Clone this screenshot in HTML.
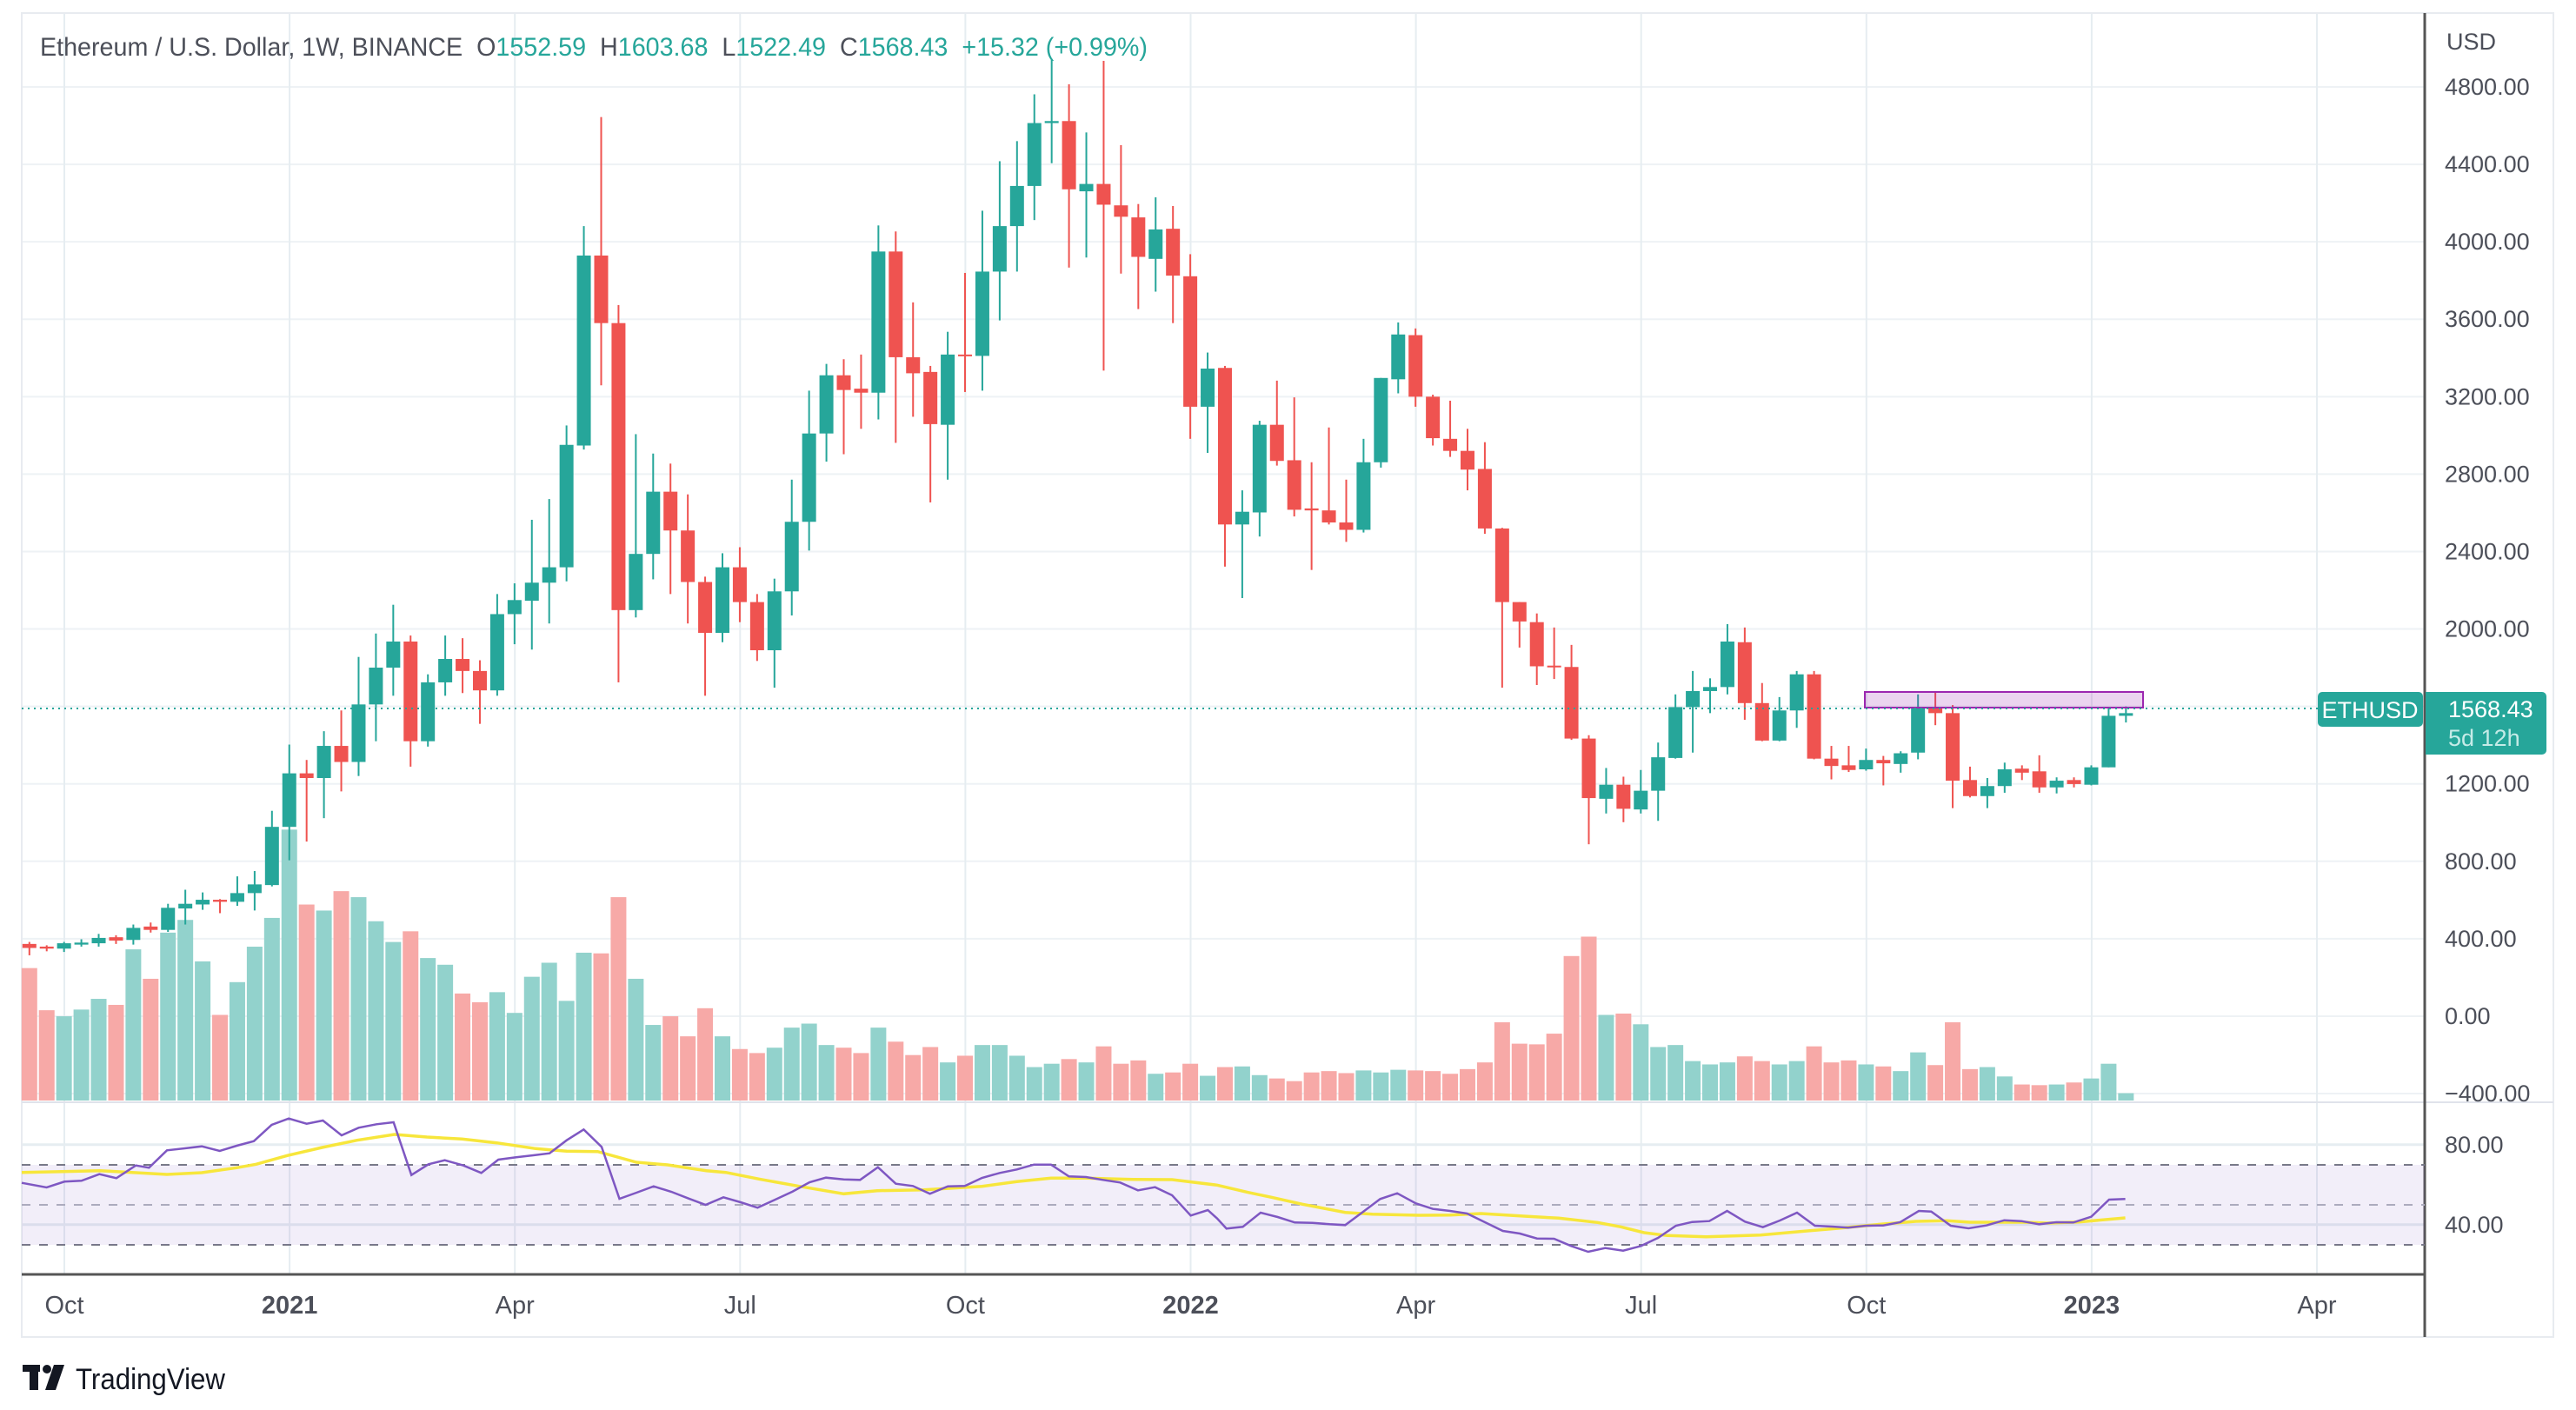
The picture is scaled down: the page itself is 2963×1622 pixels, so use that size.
<!DOCTYPE html>
<html><head><meta charset="utf-8"><style>
html,body{margin:0;padding:0;background:#fff;}
svg{display:block;font-family:"Liberation Sans",sans-serif;}
</style></head><body>
<svg id="s" width="2963" height="1622" viewBox="0 0 2963 1622" xmlns="http://www.w3.org/2000/svg">
<rect x="0" y="0" width="2963" height="1622" fill="#fff"/>
<g id="grid"></g>
<rect x="25" y="1340" width="2764" height="92" fill="rgba(126,87,194,0.1)"/>
<g id="vol"></g>
<g id="cdl"></g>
<rect x="2145" y="796" width="320" height="18" fill="rgba(156,39,176,0.2)" stroke="#9c27b0" stroke-width="2"/>
<line x1="25" y1="815" x2="2666" y2="815" stroke="#26a69a" stroke-width="2" stroke-dasharray="2,5"/>
<g id="rsi"></g>
<g id="lbl" font-size="27" fill="#4c4f59"></g>
<text x="46" y="64" font-size="30" fill="#4c4f59" style="white-space:pre" xml:space="preserve" textLength="1274" lengthAdjust="spacingAndGlyphs">Ethereum / U.S. Dollar, 1W, BINANCE  O<tspan fill="#26a69a">1552.59</tspan>  H<tspan fill="#26a69a">1603.68</tspan>  L<tspan fill="#26a69a">1522.49</tspan>  C<tspan fill="#26a69a">1568.43</tspan>  <tspan fill="#26a69a">+15.32 (+0.99%)</tspan></text>
<rect x="2666" y="796" width="121" height="40" rx="5" fill="#26a69a"/>
<text x="2726" y="826" font-size="27" fill="#fff" text-anchor="middle">ETHUSD</text>
<path d="M2790 796 H2924 a5 5 0 0 1 5 5 V863 a5 5 0 0 1 -5 5 H2790 Z" fill="#26a69a"/>
<text x="2816" y="825" font-size="27" fill="#fff">1568.43</text>
<text x="2816" y="858" font-size="27" fill="#c5ebe7">5d 12h</text>
<g transform="translate(0,-9)">
<g fill="#131722"><rect x="26" y="1579" width="20" height="8"/><rect x="34" y="1579" width="10" height="29"/><circle cx="54" cy="1584" r="5"/><path d="M62 1579 H74 L64 1608 H52 Z"/></g>
<text x="87" y="1607" font-size="34" fill="#131722" textLength="172" lengthAdjust="spacingAndGlyphs">TradingView</text>
</g>
</svg>
<script>
var NS="http://www.w3.org/2000/svg";
function el(p,t,a,txt){var e=document.createElementNS(NS,t);for(var k in a)e.setAttribute(k,a[k]);if(txt!=null)e.textContent=txt;document.getElementById(p).appendChild(e);return e;}
var G="#26a69a",R="#ef5350";
for(var k=0;k<14;k++){var y=100+k*89.08;el("grid","line",{x1:25,x2:2789,y1:y,y2:y,stroke:"#eef2f5","stroke-width":2});}
[1316.7,1408.7].forEach(function(y){el("grid","line",{x1:25,x2:2789,y1:y,y2:y,stroke:"#e6edf1","stroke-width":3});});
for(var k=0;k<11;k++){var x=74+259.1*k;el("grid","line",{x1:x,x2:x,y1:15,y2:1466,stroke:"#e6edf1","stroke-width":2});}
el("grid","rect",{x:25,y:15,width:2912,height:1523,fill:"none",stroke:"#e8ebf0","stroke-width":2});
el("grid","line",{x1:25,x2:2937,y1:1268,y2:1268,stroke:"#e0e3eb","stroke-width":2});
el("grid","line",{x1:2789,x2:2789,y1:15,y2:1538,stroke:"#555","stroke-width":3});
el("grid","line",{x1:25,x2:2789,y1:1466,y2:1466,stroke:"#555","stroke-width":3});
el("grid","line",{x1:25,x2:2789,y1:1340,y2:1340,stroke:"#787b86","stroke-width":2,"stroke-dasharray":"10,10"});
el("grid","line",{x1:25,x2:2789,y1:1386,y2:1386,stroke:"#b2b5be","stroke-width":2,"stroke-dasharray":"10,10"});
el("grid","line",{x1:25,x2:2789,y1:1432,y2:1432,stroke:"#787b86","stroke-width":2,"stroke-dasharray":"10,10"});
var C=[["r",1330,1333,1339,1350],["r",1335,1337,1340,1344],["g",1330,1332,1340,1345],["g",1326,1331,1334,1337],["g",1318,1324,1332,1337],["r",1320,1323,1328,1333],["g",1304,1309,1327,1334],["r",1301,1307,1312,1316],["g",1273,1279,1312,1315],["g",1252,1273,1280,1304],
["g",1256,1267,1274,1282],["r",1266,1267,1270,1287],["g",1232,1257,1270,1276],["g",1224,1244,1257,1283],["g",1134,1158,1245,1247],["g",1035,1078,1158,1208],["r",1058,1078,1085,1180],["g",1015,1037,1085,1145],["r",984,1037,1061,1105],["g",904,975,1061,1082],
["g",869,920,975,1030],["g",826,881,920,962],["r",872,881,1030,1068],["g",930,942,1030,1038],["g",872,907,942,962],["r",876,907,925,958],["r",909,925,954,1004],["g",810,840,954,962],["g",794,819,840,885],["g",699,793,820,893],
["g",668,770,793,854],["g",558,587,770,791],["g",260,304,588,594],["r",97,304,405,498],["r",378,405,834,942],["g",571,750,834,845],["g",600,657,750,788],["r",615,657,715,810],["r",661,715,792,854],["r",784,792,868,962],
["g",749,770,868,882],["r",740,770,822,852],["r",810,822,894,910],["g",787,806,894,950],["g",639,702,806,842],["g",506,570,702,745],["g",466,483,570,612],["r",459,483,505,601],["r",452,503,509,563],["g",259,298,509,549],
["r",268,298,456,584],["r",374,456,480,545],["r",469,478,556,673],["g",418,452,557,639],["r",330,452,454,508],["g",237,328,454,506],["g",163,260,328,401],["g",133,200,260,328],["g",63,106,200,251],["g",10,103,106,166],
["r",48,103,205,322],["g",120,197,208,307],["r",13,197,228,476],["r",139,229,246,331],["r",227,247,306,384],["g",217,265,309,358],["r",230,264,334,405],["r",302,335,530,578],["g",449,473,530,599],["r",469,472,706,769],
["g",655,687,706,816],["g",551,557,688,724],["r",491,557,611,618],["r",516,610,684,694],["r",613,682,685,774],["r",561,685,703,706],["r",639,703,714,732],["g",578,613,714,718],["g",487,487,613,621],["g",404,422,489,510],
["r",413,423,515,530],["r",512,515,577,588],["r",521,578,596,605],["r",563,596,624,655],["r",583,623,712,720],["r",711,712,822,950],["r",822,822,851,890],["r",839,852,918,946],["r",860,917,919,937],["r",886,919,1026,1028],
["r",1021,1026,1115,1184],["g",1070,1095,1116,1138],["r",1083,1095,1131,1151],["g",1073,1104,1132,1138],["g",1032,1054,1104,1149],["g",960,979,1055,1056],["g",925,955,979,1047],["g",936,949,955,988],["g",855,881,949,960],["r",860,882,973,998],
["r",943,973,1029,1030],["g",964,984,1029,1030],["g",925,930,984,1010],["r",925,930,1056,1057],["r",1037,1056,1067,1087],["r",1037,1066,1073,1076],["g",1041,1058,1072,1074],["r",1052,1058,1063,1096],["g",1045,1048,1064,1077],["g",960,981,1047,1057],
["r",957,981,988,1006],["r",976,988,1089,1130],["r",1068,1088,1112,1114],["g",1085,1097,1112,1130],["g",1062,1072,1097,1107],["r",1066,1071,1077,1088],["r",1051,1075,1099,1107],["g",1084,1089,1099,1108],["r",1084,1088,1094,1099],["g",1066,1069,1095,1096],
["g",981,992,1069,1069],["g",978,988,992,1002]];
var V=[[1373,"r"],[1436,"r"],[1445,"g"],[1435,"g"],[1419,"g"],[1428,"r"],[1345,"g"],[1389,"r"],[1320,"g"],[1301,"g"],[1363,"g"],[1443,"r"],[1394,"g"],[1341,"g"],[1298,"g"],[1166,"g"],[1278,"r"],[1287,"g"],[1258,"r"],[1267,"g"],[1303,"g"],[1334,"g"],[1318,"r"],[1358,"g"],[1368,"g"],[1411,"r"],[1424,"r"],[1409,"g"],[1440,"g"],[1386,"g"],[1365,"g"],[1422,"g"],[1350,"g"],[1351,"r"],[1267,"r"],[1389,"g"],[1458,"g"],[1445,"r"],[1475,"r"],[1433,"r"],[1475,"g"],[1494,"r"],[1500,"r"],[1492,"g"],[1462,"g"],[1456,"g"],[1488,"g"],[1492,"r"],[1500,"r"],
[1462,"g"],[1483,"r"],[1503,"r"],[1491,"r"],[1514,"g"],[1504,"r"],[1488,"g"],[1488,"g"],[1504,"g"],[1521,"g"],[1516,"g"],[1509,"r"],[1514,"g"],[1490,"r"],[1516,"r"],[1511,"r"],[1531,"g"],[1529,"r"],[1516,"r"],[1534,"g"],[1521,"r"],[1520,"g"],[1533,"g"],[1538,"r"],[1542,"r"],[1529,"r"],[1527,"r"],[1530,"r"],[1526,"g"],[1529,"g"],[1525,"g"],[1526,"r"],[1527,"r"],[1531,"r"],[1524,"r"],[1514,"r"],[1454,"r"],[1486,"r"],[1487,"r"],[1471,"r"],[1355,"r"],[1326,"r"],[1443,"g"],[1441,"r"],[1457,"g"],[1491,"g"],[1488,"g"],[1512,"g"],[1517,"g"],[1514,"g"],
[1505,"r"],[1512,"r"],[1517,"g"],[1512,"g"],[1490,"r"],[1514,"r"],[1511,"r"],[1517,"g"],[1520,"r"],[1527,"g"],[1499,"g"],[1518,"r"],[1454,"r"],[1524,"r"],[1521,"g"],[1535,"g"],[1547,"r"],[1548,"r"],[1547,"g"],[1544,"r"],[1538,"g"],[1516,"g"],[1560,"g"]];
function Y(z){return 60+z/1.2994;}
function X(i){return 33.8+19.93*i;}
V.forEach(function(v,i){var t=Y(v[0])-3;var b=1266;if(t>b-5)t=b-5;el("vol","rect",{x:X(i)-9,y:t,width:18,height:b-t,fill:v[1]=="g"?"#92d2cc":"#f7a9a7"});});
C.forEach(function(c,i){var col=c[0]=="g"?G:R,x=X(i);el("cdl","rect",{x:x-1,y:Y(c[1]),width:2,height:Math.max(1,Y(c[4])-Y(c[1])),fill:col});var h=Math.max(2,Y(c[3])-Y(c[2]));el("cdl","rect",{x:x-8,y:Y(c[2]),width:16,height:h,fill:col});});
var P1=[[28,272],[60,288],[83,268],[105,265],[128,242],[150,256],[175,212],[192,220],[215,160],[238,153],[260,146],[283,162],[305,144],[327,128],[350,72],[372,50],[395,68],[416,57],[440,108],[462,82],[485,70],[507,63],[530,245],[552,208],[573,194],[597,212],[620,238],[642,192],[665,184],[687,177],[708,170],[730,125],[752,88],[775,148],[798,327],[820,306],[842,284],[865,303],[887,326],[909,348],[932,322],[954,339],[976,358],[998,331],[1021,302],[1043,270],[1064,254],[1087,260],[1108,262],[1131,218],[1154,275],[1176,283],[1198,310],[1221,284],[1243,283],[1265,255],[1288,238],[1310,226],[1332,209],[1354,209],[1377,250],[1399,252],[1421,262],[1443,271],[1466,298],[1488,287],[1510,315],[1534,385],[1556,366]];
var P2=[[0,395],[12,430],[33,424],[56,375],[78,390],[100,409],[123,410],[145,415],[165,418],[188,372],[210,328],[232,308],[256,343],[278,362],[300,369],[322,378],[345,408],[368,438],[390,447],[412,464],[434,465],[456,490],[478,510],[500,497],[523,506],[546,490],[568,462],[591,420],[612,407],[634,404],[657,369],[680,406],[703,425],[725,402],[747,375],[770,420],[792,423],[813,427],[836,420],[858,419],[880,408],[904,369],[920,371],[945,420],[968,429],[991,419],[1014,401],[1036,404],[1059,415],[1081,408],[1103,409],[1126,389],[1149,330],[1170,328]];
var M1=[[28,236],[80,233],[128,230],[170,236],[215,243],[260,237],[305,220],[330,208],[370,178],[415,150],[460,125],[508,105],[550,114],[595,121],[640,134],[690,154],[730,163],[770,164],[820,201],[860,210],[910,230],[935,236],[980,260],[1030,284],[1087,310],[1130,299],[1190,296],[1265,284],[1310,268],[1354,256],[1400,256],[1460,260],[1510,261],[1568,280]];
var M2=[[40,305],[70,322],[110,346],[165,374],[200,380],[260,384],[300,383],[340,378],[400,388],[440,394],[490,409],[520,424],[550,444],[580,454],[630,458],[700,452],[760,438],[800,429],[850,416],[900,405],[940,403],[970,408],[1040,408],[1070,411],[1110,407],[1170,393]];
function pts(a,ox){return a.map(function(p){return (ox+p[0]/1.12).toFixed(1)+","+(1270+p[1]/3).toFixed(1);}).join(" ");}
el("rsi","polyline",{points:pts(M1,0)+" "+pts(M2,1400),fill:"none",stroke:"#f7e63b","stroke-width":3.5});
el("rsi","polyline",{points:pts(P1,0)+" "+pts(P2,1400),fill:"none",stroke:"#7e57c2","stroke-width":2.5});
el("lbl","text",{x:2814,y:57},"USD");
var pv=[4800,4400,4000,3600,3200,2800,2400,2000,1600,1200,800,400,0,-400];
pv.forEach(function(p,k){if(p==1600)return;el("lbl","text",{x:2812,y:100+k*89.08+9},(p<0?"\u2212"+(-p):p)+".00");});
el("lbl","text",{x:2812,y:1326},"80.00");el("lbl","text",{x:2812,y:1418},"40.00");
var tl=["Oct","2021","Apr","Jul","Oct","2022","Apr","Jul","Oct","2023","Apr"];
tl.forEach(function(t,k){var e=el("lbl","text",{x:74+259.1*k,y:1511,"text-anchor":"middle","font-size":29},t);if(t.length==4)e.setAttribute("font-weight","bold");});
</script>
</body></html>
